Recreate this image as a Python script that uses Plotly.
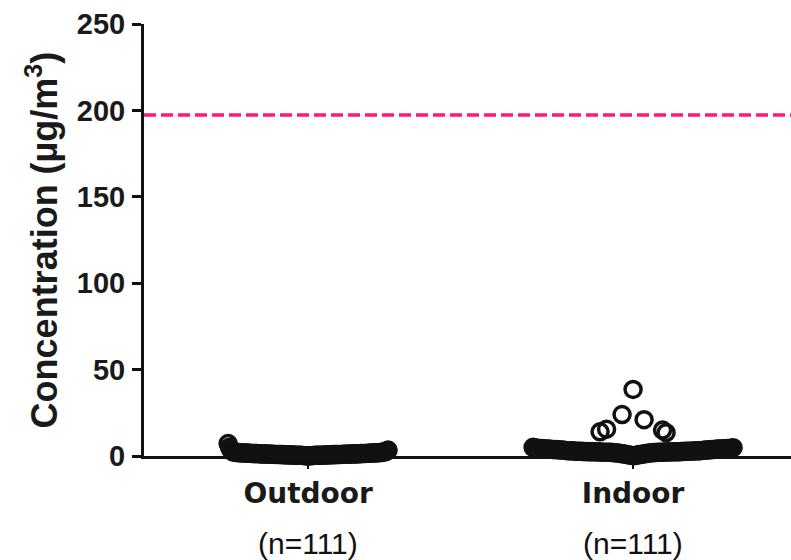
import numpy as np
import plotly.graph_objects as go

# ---------------- data ----------------
categories = ["Outdoor", "Indoor"]
n_labels = ["(n=111)", "(n=111)"]
y_ticks = [0, 50, 100, 150, 200, 250]
guideline_value = 197.3  # dashed reference line (µg/m3)

# values listed in the order they are laid out in each row (centre outwards)
outdoor = [
    0.1, 0.1, 0.2, 0.2, 0.2, 0.3, 0.3, 0.3, 0.3, 0.4,
    0.4, 0.4, 0.4, 0.4, 0.5, 0.5, 0.5, 0.5, 0.5, 0.5,
    0.6, 0.6, 0.6, 0.6, 0.6, 0.6, 0.7, 0.7, 0.7, 0.7,
    0.7, 0.7, 0.7, 0.8, 0.8, 0.8, 0.8, 0.8, 0.8, 0.8,
    0.9, 0.9, 0.9, 0.9, 0.9, 0.9, 0.9, 1.0, 1.0, 1.0,
    1.0, 1.0, 1.0, 1.0, 1.1, 1.1, 1.1, 1.1, 1.1, 1.1,
    1.2, 1.2, 1.2, 1.2, 1.2, 1.3, 1.3, 1.3, 1.3, 1.3,
    1.4, 1.4, 1.4, 1.4, 1.4, 1.5, 1.5, 1.5, 1.5, 1.5,
    1.6, 1.6, 1.6, 1.6, 1.7, 1.7, 1.7, 1.7, 1.8, 1.8,
    1.8, 1.8, 1.9, 1.9, 1.9, 1.9, 2.0, 2.0, 2.0, 2.0,
    2.1, 2.2, 2.2, 2.3, 2.6, 2.4, 3.5, 2.8, 5.0, 3.4,
    7.2,
]

indoor = [
    0.2, 0.3, 0.4, 0.5, 0.6, 0.7, 0.8, 0.9, 1.0, 1.1,
    1.2, 1.3, 1.4, 1.5, 1.6, 1.7, 1.8, 1.8, 1.9, 1.9,
    2.0, 2.0, 2.0, 2.1, 2.1, 2.1, 2.1, 2.2, 2.2, 2.2,
    2.2, 2.2, 2.3, 2.3, 2.3, 2.3, 2.3, 2.4, 2.4, 2.4,
    2.4, 2.4, 2.5, 2.5, 2.5, 2.5, 2.5, 2.6, 2.6, 2.6,
    2.6, 2.6, 2.7, 2.7, 2.7, 2.7, 2.8, 2.8, 2.8, 2.8,
    2.9, 2.9, 2.9, 3.0, 3.0, 3.0, 3.1, 3.1, 3.1, 3.2,
    3.2, 3.3, 3.3, 3.4, 3.4, 3.5, 3.5, 3.6, 3.6, 3.7,
    3.7, 3.7, 3.8, 3.8, 3.9, 3.9, 4.0, 4.0, 4.0, 4.1,
    4.1, 4.1, 4.2, 4.2, 4.2, 4.3, 4.3, 4.4, 4.4, 4.5,
    4.5, 4.6, 4.8, 5.0,
    15.0, 15.5, 13.5, 14.0, 21.0, 24.0, 38.5,
]

# ---------------- layout constants ----------------
W, H = 791, 560
M_L, M_R, M_T, M_B = 144, 0, 24, 104
X_RANGE = [-0.505, 1.486]
Y_RANGE = [0, 250]
PX_PER_X = (W - M_L - M_R) / (X_RANGE[1] - X_RANGE[0])
PX_PER_Y = (H - M_T - M_B) / (Y_RANGE[1] - Y_RANGE[0])


def swarm_offsets(values, row_height, spacing_px, half_width_px, min_dist_px):
    """Scatter-dot layout: values binned into rows (top row first); within a
    row points are spread alternately right/left from the centre in data
    order, compressed so the row never exceeds a maximum width.  Sparse rows
    are pushed outwards to avoid overlapping points already placed above."""
    vals = np.asarray(values, float)
    rows = np.floor(vals / row_height).astype(int)
    off_px = np.zeros(len(vals))
    placed = []  # (x_px, y_px)
    for r in sorted(np.unique(rows), reverse=True):
        idx = np.where(rows == r)[0]
        n = len(idx)
        s = spacing_px if n < 2 else min(spacing_px, 2 * half_width_px / (n - 1))
        sparse = s >= spacing_px
        row_pts = []
        for k, i in enumerate(idx):
            if n % 2 == 1:
                slot = 0 if k == 0 else ((k + 1) // 2) * (1 if k % 2 == 1 else -1)
            else:
                slot = (k // 2 + 0.5) * (1 if k % 2 == 0 else -1)
            x = slot * s
            y = vals[i] * PX_PER_Y
            if sparse and slot != 0:
                direction = 1 if slot > 0 else -1
                while any((x - px) ** 2 + (y - py) ** 2 < min_dist_px ** 2 for px, py in placed):
                    x += 0.5 * direction
            off_px[i] = x
            row_pts.append((x, y))
        placed.extend(row_pts)
    return off_px / PX_PER_X


groups = [outdoor, indoor]
half_widths = [80, 100]

fig = go.Figure()
for gi, (vals, hw) in enumerate(zip(groups, half_widths)):
    xo = gi + swarm_offsets(vals, 10, 22, hw, 21)
    fig.add_trace(go.Scatter(
        x=xo, y=vals, mode="markers", name=categories[gi],
        marker=dict(symbol="circle-open", size=16, color="#111111",
                    line=dict(width=3.5, color="#111111")),
        cliponaxis=False, showlegend=False,
    ))

fig.add_shape(type="line", xref="paper", x0=0, x1=1, yref="y",
              y0=guideline_value, y1=guideline_value,
              line=dict(color="#FF1A72", width=3.5, dash="12px,5px"))

for gi, lab in enumerate(n_labels):
    fig.add_annotation(x=gi, xref="x", y=-(543 - (H - M_B)) / (H - M_T - M_B),
                       yref="paper", text=lab, showarrow=False,
                       xanchor="center", yanchor="middle",
                       font=dict(family="Liberation Sans, Arial", size=30, color="#111111"))

fig.update_layout(
    width=W, height=H,
    margin=dict(l=M_L, r=M_R, t=M_T, b=M_B, pad=0),
    paper_bgcolor="white", plot_bgcolor="white",
    xaxis=dict(
        range=X_RANGE, tickvals=[0, 1], ticktext=categories,
        showline=True, linecolor="#111111", linewidth=3,
        ticks="outside", ticklen=10, tickwidth=2, tickcolor="#111111",
        tickfont=dict(family="DejaVu Sans", size=28, color="#1a1a1a", weight="bold"),
        showgrid=False, zeroline=False,
    ),
    yaxis=dict(
        range=Y_RANGE, tickvals=y_ticks,
        showline=True, linecolor="#111111", linewidth=3,
        ticks="outside", ticklen=9, tickwidth=3, tickcolor="#111111",
        tickfont=dict(family="Liberation Sans, Arial", size=29, color="#1a1a1a", weight="bold"),
        ticklabelstandoff=1,
        title=dict(text="Concentration (µg/m<sup>3</sup>)", standoff=9,
                   font=dict(family="Liberation Sans, Arial", size=36, color="#1a1a1a", weight="bold")),
        showgrid=False, zeroline=False,
    ),
)

fig.write_html("out.html")
